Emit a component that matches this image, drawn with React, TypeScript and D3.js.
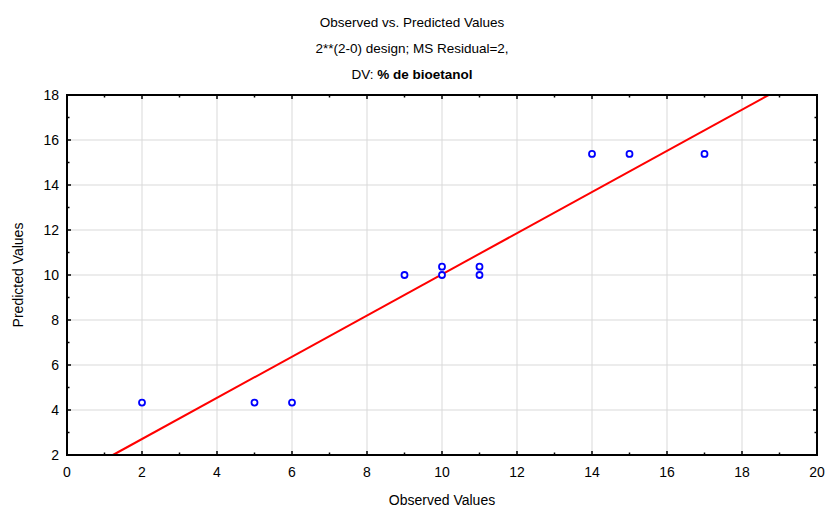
import React from 'react';
import * as d3 from 'd3';

const observed = [2, 5, 6, 9, 10, 10, 11, 11, 14, 15, 17];
const predicted = [4.33, 4.33, 4.33, 10.0, 10.0, 10.37, 10.37, 10.0, 15.38, 15.38, 15.38];
const fitIntercept = 0.88;
const fitSlope = 0.915;
const xTicks = [0, 2, 4, 6, 8, 10, 12, 14, 16, 18, 20];
const yTicks = [2, 4, 6, 8, 10, 12, 14, 16, 18];
const titleLines = ['Observed vs. Predicted Values', '2**(2-0) design; MS Residual=2,'];

const W = 825;
const H = 511;
const m = { left: 67, right: 8, top: 95, bottom: 56 };

const App = () => {
  const x = d3.scaleLinear().domain([0, 20]).range([m.left, W - m.right]);
  const y = d3.scaleLinear().domain([2, 18]).range([H - m.bottom, m.top]);
  const [x0, x1] = x.range();
  const [y0, y1] = y.range();
  const font = '"Liberation Sans", Arial, sans-serif';

  // fitted line, from y=2 up to y=18 (clipped to plot box)
  const xa = Math.max(0, (2 - fitIntercept) / fitSlope);
  const xb = Math.min(20, (18 - fitIntercept) / fitSlope);
  const line = d3.line<number>().x(d => x(d)).y(d => y(fitIntercept + fitSlope * d));

  const xMinor = d3.range(1, 20, 2);
  const yMinor = d3.range(3, 18, 2);

  return (
    <svg width={W} height={H} style={{ position: 'absolute', left: 0, top: 0, fontFamily: font }}>
      <rect width={W} height={H} fill="#fff" />
      {titleLines.map((t, i) => (
        <text key={t} x={412} y={27 + i * 26} textAnchor="middle" fontSize={13.5}>{t}</text>
      ))}
      <text x={412} y={79} textAnchor="middle" fontSize={13.5}>
        DV: <tspan fontWeight="bold">% de bioetanol</tspan>
      </text>

      {/* grid */}
      {xTicks.slice(1, -1).map(t => (
        <line key={'gx' + t} x1={x(t)} x2={x(t)} y1={y0} y2={y1} stroke="#d9d9d9" />
      ))}
      {yTicks.slice(1, -1).map(t => (
        <line key={'gy' + t} x1={x0} x2={x1} y1={y(t)} y2={y(t)} stroke="#d9d9d9" />
      ))}

      {/* ticks, pointing inward */}
      {xTicks.map(t => (
        <g key={'tx' + t}>
          <line x1={x(t)} x2={x(t)} y1={y0} y2={y0 - 4} stroke="#000" strokeWidth={1.5} />
          <line x1={x(t)} x2={x(t)} y1={y1} y2={y1 + 4} stroke="#000" strokeWidth={1.5} />
          <text x={x(t)} y={y0 + 22} textAnchor="middle" fontSize={14}>{t}</text>
        </g>
      ))}
      {xMinor.map(t => (
        <g key={'mx' + t}>
          <line x1={x(t)} x2={x(t)} y1={y0} y2={y0 - 2.5} stroke="#000" strokeWidth={1.5} />
          <line x1={x(t)} x2={x(t)} y1={y1} y2={y1 + 2.5} stroke="#000" strokeWidth={1.5} />
        </g>
      ))}
      {yTicks.map(t => (
        <g key={'ty' + t}>
          <line x1={x0} x2={x0 + 4} y1={y(t)} y2={y(t)} stroke="#000" strokeWidth={1.5} />
          <line x1={x1} x2={x1 - 4} y1={y(t)} y2={y(t)} stroke="#000" strokeWidth={1.5} />
          <text x={x0 - 8} y={y(t) + 5} textAnchor="end" fontSize={14}>{t}</text>
        </g>
      ))}
      {yMinor.map(t => (
        <g key={'my' + t}>
          <line x1={x0} x2={x0 + 2.5} y1={y(t)} y2={y(t)} stroke="#000" strokeWidth={1.5} />
          <line x1={x1} x2={x1 - 2.5} y1={y(t)} y2={y(t)} stroke="#000" strokeWidth={1.5} />
        </g>
      ))}

      {/* fitted line */}
      <path d={line([xa, xb]) || ''} fill="none" stroke="#ff0000" strokeWidth={2} />

      {/* points */}
      {observed.map((o, i) => (
        <circle key={i} cx={x(o)} cy={y(predicted[i])} r={3} fill="#fff" stroke="#0000ff" strokeWidth={1.8} />
      ))}

      {/* frame */}
      <rect x={x0} y={y1} width={x1 - x0} height={y0 - y1} fill="none" stroke="#000" strokeWidth={2} />

      <text x={(x0 + x1) / 2} y={H - 6} textAnchor="middle" fontSize={14}>Observed Values</text>
      <text transform={`translate(23,${(y0 + y1) / 2}) rotate(-90)`} textAnchor="middle" fontSize={14}>Predicted Values</text>
    </svg>
  );
};

export default App;
